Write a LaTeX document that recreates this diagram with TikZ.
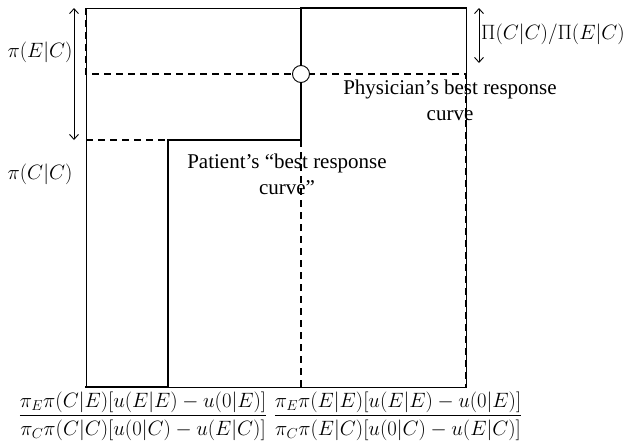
\documentclass[tikz,border=0pt]{standalone}
\usepackage{amsmath}
\usepackage{fontspec}
\setmainfont{Liberation Serif}
\usetikzlibrary{arrows.meta}
\begin{document}
\begin{tikzpicture}[x=1pt,y=-1pt,
  thinline/.style={line width=0.9pt},
  thickline/.style={line width=2.6pt,line join=miter,line cap=rect},
  dashline/.style={line width=1.2pt,dash pattern=on 7pt off 5pt},
  dimarrow/.style={line width=0.9pt,{Straight Barb[length=5pt,width=9pt]}-{Straight Barb[length=5pt,width=9pt]}},
  lbl/.style={font=\fontsize{20.5}{26}\selectfont,inner sep=0pt},
  fraclbl/.style={font=\fontsize{21}{26}\selectfont,inner sep=0pt},
  captxt/.style={font=\fontsize{21}{26}\selectfont,inner sep=0pt,align=center}]
\useasboundingbox (0,0) rectangle (624,442);
% corners
\coordinate (TL) at (86,8);
\coordinate (TR) at (466,8);
\coordinate (BL) at (86,387);
\coordinate (BR) at (466,387);
\coordinate (pA) at (168,387);
\coordinate (pB) at (168,140);
\coordinate (pC) at (301,140);
\coordinate (pD) at (301,8);
\coordinate (hL) at (86,74);
\coordinate (hR) at (466,74);
\coordinate (lL) at (86,140);
\coordinate (vB) at (301,387);
% frame
\draw[thinline] (TL) rectangle (BR);
% physician's curve (dashed)
\draw[dashline] (TL) -- (hL) -- (hR) -- (BR);
\draw[dashline] (lL) -- (pB);
\draw[dashline] (pC) -- (vB);
% patient's curve (thick)
\draw[thickline] (BL) -- (pA) -- (pB) -- (pC) -- (pD) -- (TR);
% intersection
\node[circle,draw,thinline,fill=white,minimum size=17pt,inner sep=0pt] (eq) at (301,74) {};
% dimension arrows
\coordinate (a1t) at (74,8);
\coordinate (a1b) at (74,140);
\coordinate (a2t) at (479,8);
\coordinate (a2b) at (479,63);
\draw[dimarrow] (a1t) -- (a1b);
\draw[dimarrow] (a2t) -- (a2b);
% labels
\node[lbl] (lEC) at (40,52) {$\pi(E|C)$};
\node[lbl] (lCC) at (40,174) {$\pi(C|C)$};
\node[lbl,anchor=west] (lPi) at (481,34) {$\Pi(C|C)/\Pi(E|C)$};
\node[captxt] (phys) at (450,100) {Physician’s best response\\curve};
\node[captxt] (pat) at (287,174) {Patient’s “best response\\curve”};
\node[fraclbl] (f1) at (143,416) {$\dfrac{\pi_E\pi(C|E)[u(E|E)-u(0|E)]}{\pi_C\pi(C|C)[u(0|C)-u(E|C)]}$};
\node[fraclbl] (f2) at (398,416) {$\dfrac{\pi_E\pi(E|E)[u(E|E)-u(0|E)]}{\pi_C\pi(E|C)[u(0|C)-u(E|C)]}$};
\end{tikzpicture}
\end{document}
